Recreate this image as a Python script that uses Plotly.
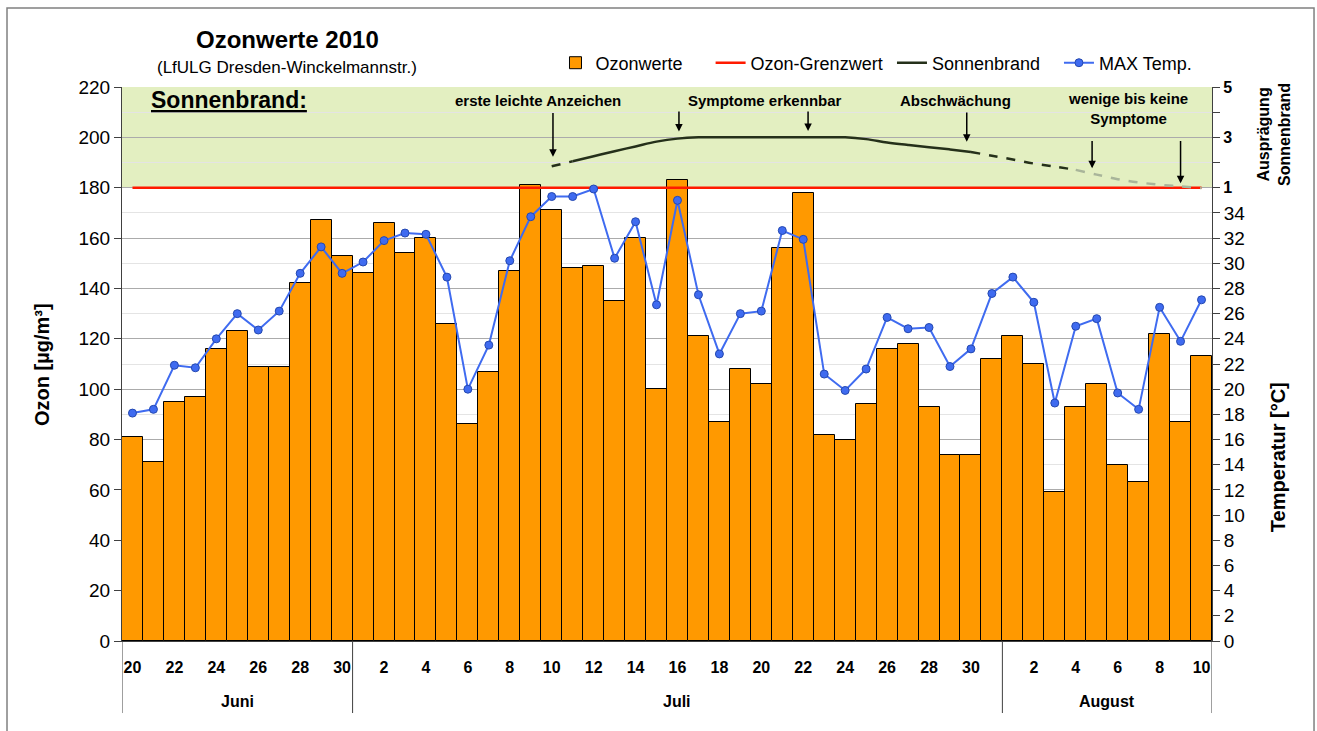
import plotly.graph_objects as go

# ---------------- data ----------------
juni_days = list(range(20, 31))
juli_days = list(range(1, 32))
august_days = list(range(1, 11))
month_names = ["Juni", "Juli", "August"]

ozonwerte = [81, 71, 95, 97, 116, 123, 109, 109, 142, 167, 153,
             146, 166, 154, 160, 126, 86, 107, 147, 181, 171, 148, 149, 135, 160, 100,
             183, 121, 87, 108, 102, 156, 178, 82, 80, 94, 116, 118, 93, 74, 74, 112,
             121, 110, 59, 93, 102, 70, 63, 122, 87, 113]

max_temp = [18.1, 18.4, 21.9, 21.7, 24.0, 26.0, 24.7, 26.2, 29.2, 31.3, 29.2,
            30.1, 31.8, 32.4, 32.3, 28.9, 20.0, 23.5, 30.2, 33.7, 35.3, 35.3, 35.9, 30.4,
            33.3, 26.7, 35.0, 27.5, 22.8, 26.0, 26.2, 32.6, 31.9, 21.2, 19.9, 21.6, 25.7,
            24.8, 24.9, 21.8, 23.2, 27.6,
            28.9, 26.9, 18.9, 25.0, 25.6, 19.7, 18.4, 26.5, 23.8, 27.1]

grenzwert_value = 180

# Sonnenbrand (Auspraegung 1..5), from 10 July to 10 August
sonnenbrand = [1.85, 2.05, 2.25, 2.45, 2.64, 2.83, 2.95, 3.0, 3.0, 3.0, 3.0, 3.0, 3.0, 3.0, 3.0,
               2.93, 2.80, 2.70, 2.61, 2.52, 2.42,
               2.27, 2.12, 1.96, 1.84, 1.71,
               1.52, 1.34, 1.21, 1.12, 1.05, 0.99]
sonnenbrand_first_day = ("Juli", 10)
# segments (index range within sonnenbrand list)
seg_head = (0, 1)     # short dash at the start
seg_solid = (1, 20)
seg_dark = (20, 25)   # dashed, dark
seg_light = (25, 31)  # dashed, light

sb_ticks = [1, 2, 3, 4, 5]
sb_ticktext = ["1", "", "3", "", "5"]

# ---------------- derived positions ----------------
days = juni_days + juli_days + august_days
months = ["Juni"] * len(juni_days) + ["Juli"] * len(juli_days) + ["August"] * len(august_days)
x = list(range(len(days)))
tickvals = [i for i, d in enumerate(days) if d % 2 == 0]
ticktext = [str(days[i]) for i in tickvals]
grenzwert = [grenzwert_value] * len(days)

sb_start = next(i for i in x if months[i] == sonnenbrand_first_day[0] and days[i] == sonnenbrand_first_day[1])
sb_x = [sb_start + k for k in range(len(sonnenbrand))]

FONT = "Liberation Sans, Arial, sans-serif"

fig = go.Figure()
fig.add_trace(go.Bar(x=x, y=ozonwerte, name="Ozonwerte", width=1, legend="legend",
                     marker=dict(color="#FF9900", line=dict(color="#000000", width=1))))
fig.add_trace(go.Scatter(x=x, y=grenzwert, name="Ozon-Grenzwert", mode="lines", legend="legend2",
                         line=dict(color="#FF1A00", width=2.5)))


def seg(a, b):
    return sb_x[a:b + 1], sonnenbrand[a:b + 1]


sx, sy = seg(*seg_solid)
fig.add_trace(go.Scatter(x=sx, y=sy, yaxis="y3", name="Sonnenbrand", mode="lines", legend="legend3",
                         line=dict(color="#25301A", width=2.5, shape="spline")))
sx, sy = seg(*seg_head)
fig.add_trace(go.Scatter(x=sx, y=sy, yaxis="y3", mode="lines", showlegend=False,
                         line=dict(color="#25301A", width=2.5, dash="dash")))
sx, sy = seg(*seg_dark)
fig.add_trace(go.Scatter(x=sx, y=sy, yaxis="y3", mode="lines", showlegend=False,
                         line=dict(color="#25301A", width=2.5, dash="dash", shape="spline")))
sx, sy = seg(*seg_light)
fig.add_trace(go.Scatter(x=sx, y=sy, yaxis="y3", mode="lines", showlegend=False,
                         line=dict(color="#A9B59A", width=2.5, dash="dash", shape="spline")))

fig.add_trace(go.Scatter(x=x, y=max_temp, yaxis="y2", name="MAX Temp.", mode="lines+markers",
                         legend="legend4",
                         line=dict(color="#3F6BF0", width=2),
                         marker=dict(size=8, color="#3F6BF0", line=dict(color="#2448B0", width=1))))

n1 = len(juni_days)
n2 = n1 + len(juli_days)
n3 = n2 + len(august_days)
bounds = [-0.5, n1 - 0.5, n2 - 0.5, n3 - 0.5]

shapes = [
    dict(type="rect", xref="x", yref="y", x0=-0.5, x1=n3 - 0.5, y0=180, y1=220,
         fillcolor="#E3EFC1", line=dict(width=0), layer="below"),
    dict(type="rect", xref="paper", yref="paper", x0=-0.1055, x1=1.0936, y0=-0.3, y1=1.1426,
         line=dict(color="#808080", width=1.5)),
]
for b in bounds:
    shapes.append(dict(type="line", xref="x", yref="paper", x0=b, x1=b, y0=0, y1=-0.13,
                       line=dict(color="#404040", width=1)))

annotations = []
for name, a, b in zip(month_names, bounds[:-1], bounds[1:]):
    annotations.append(dict(x=(a + b) / 2, y=-0.11, xref="x", yref="paper", text=name,
                            showarrow=False, font=dict(family=FONT, size=16, weight="bold"),
                            xanchor="center", yanchor="middle"))

annotations += [
    dict(x=0.1514, y=1.0866, xref="paper", yref="paper", text="Ozonwerte 2010", showarrow=False,
         font=dict(family=FONT, size=24, weight="bold"), xanchor="center", yanchor="middle"),
    dict(x=0.1514, y=1.0361, xref="paper", yref="paper", text="(LfULG Dresden-Winckelmannstr.)",
         showarrow=False, font=dict(family=FONT, size=17), xanchor="center", yanchor="middle"),
    dict(x=-0.0734, y=0.5, xref="paper", yref="paper", text="Ozon [µg/m³]", textangle=-90,
         showarrow=False, font=dict(family=FONT, size=20, weight="bold"),
         xanchor="center", yanchor="middle"),
    dict(x=1.0606, y=0.332, xref="paper", yref="paper", text="Temperatur [°C]", textangle=-90,
         showarrow=False, font=dict(family=FONT, size=20, weight="bold"),
         xanchor="center", yanchor="middle"),
    dict(x=1.0569, y=0.9134, xref="paper", yref="paper", text="Ausprägung<br>Sonnenbrand",
         textangle=-90, showarrow=False, font=dict(family=FONT, size=16, weight="bold"),
         xanchor="center", yanchor="middle"),
    dict(x=0.81, y=214.8, xref="x", yref="y", text="<u>Sonnenbrand:</u>", xanchor="left",
         yanchor="middle", showarrow=False, font=dict(family=FONT, size=23, weight="bold")),
    dict(x=19.33, y=214.8, xref="x", yref="y", text="erste leichte Anzeichen", xanchor="center",
         yanchor="middle", showarrow=False, font=dict(family=FONT, size=15, weight="bold")),
    dict(x=30.18, y=214.8, xref="x", yref="y", text="Symptome erkennbar", xanchor="center",
         yanchor="middle", showarrow=False, font=dict(family=FONT, size=15, weight="bold")),
    dict(x=39.27, y=214.8, xref="x", yref="y", text="Abschwächung", xanchor="center",
         yanchor="middle", showarrow=False, font=dict(family=FONT, size=15, weight="bold")),
    dict(x=47.5, y=211.3, xref="x", yref="y", text="wenige bis keine<br>Symptome", xanchor="center",
         yanchor="middle", showarrow=False, font=dict(family=FONT, size=15, weight="bold")),
]

arrows = [(20.06, 210.3, 192.3), (26.07, 210.9, 202.3), (32.23, 210.9, 202.5),
          (39.8, 210.5, 198.3), (45.78, 199.2, 187.7), (50.0, 199.2, 181.8)]
for ax_, y_tail, y_tip in arrows:
    annotations.append(dict(x=ax_, y=y_tip, ax=ax_, ay=y_tail, xref="x", yref="y", axref="x", ayref="y",
                            text="", showarrow=True, arrowhead=2, arrowsize=1, arrowwidth=1.5,
                            arrowcolor="#000000"))

legend_common = dict(orientation="h", y=1.0433, yanchor="middle", xanchor="left",
                     font=dict(family=FONT, size=18), bgcolor="rgba(0,0,0,0)", itemwidth=30)

axis_line = "#404040"
fig.update_layout(
    width=1317, height=731,
    margin=dict(l=122, r=105, t=87, b=90),
    paper_bgcolor="white", plot_bgcolor="white",
    bargap=0,
    font=dict(family=FONT, color="#000000"),
    showlegend=True,
    legend=dict(x=0.3977, **legend_common),
    legend2=dict(x=0.5400, **legend_common),
    legend3=dict(x=0.7064, **legend_common),
    legend4=dict(x=0.8596, **legend_common),
    xaxis=dict(range=[-0.5, n3 - 0.5], tickvals=tickvals, ticktext=ticktext,
               tickfont=dict(family=FONT, size=16, weight="bold"),
               showline=True, linecolor=axis_line, ticks="outside", ticklen=12,
               tickcolor="rgba(0,0,0,0)", showgrid=False, zeroline=False),
    yaxis=dict(range=[0, 220], dtick=20, tick0=0, ticks="outside", ticklen=7, tickcolor=axis_line,
               showline=True, linecolor=axis_line, gridcolor="#ABABAB", zeroline=False,
               tickfont=dict(family=FONT, size=19),
               minor=dict(dtick=10, tick0=0, showgrid=True, gridcolor="#E4E4E4", ticks="")),
    yaxis2=dict(overlaying="y", side="right", anchor="x", range=[0, 44],
                tickvals=list(range(0, 35, 2)), ticks="outside", ticklen=7, tickcolor=axis_line,
                showline=True, linecolor=axis_line, showgrid=False, zeroline=False,
                tickfont=dict(family=FONT, size=19)),
    yaxis3=dict(overlaying="y", side="right", anchor="x", range=[-17, 5],
                tickvals=sb_ticks, ticktext=sb_ticktext, ticks="outside",
                ticklen=7, tickcolor=axis_line, showline=True, linecolor=axis_line,
                showgrid=False, zeroline=False, tickfont=dict(family=FONT, size=16, weight="bold")),
    shapes=shapes,
    annotations=annotations,
)

fig.write_html("out.html", config={"displayModeBar": False},
               post_script="document.body.style.margin='0px';")
